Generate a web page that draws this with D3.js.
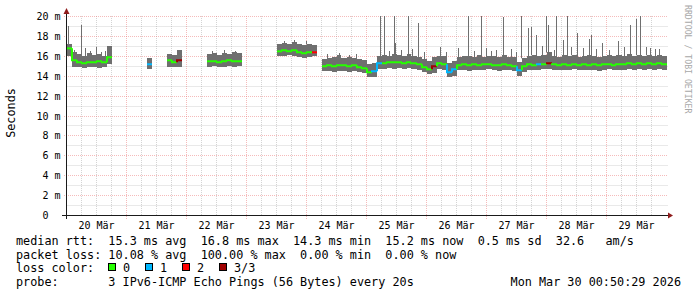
<!DOCTYPE html>
<html><head><meta charset="utf-8">
<script src="https://cdn.jsdelivr.net/npm/d3@7"></script>
<style>
html,body{margin:0;padding:0;background:#fff;}
svg{display:block;}
text{font-family:"DejaVu Sans Mono",monospace;white-space:pre;}
</style></head><body>
<svg id="c" width="697" height="297"></svg>
<script>
// ---------- data ----------
const startUtc = Date.UTC(2026, 2, 20, 0, 0, 0);
const endUtc = Date.UTC(2026, 2, 30, 0, 0, 0);
const binHours = 2;

// median rtt (ms) per 2-hour bin, null = no data
const median = [
 16.8,15.6,15.4,15.3,15.4,15.4,15.5,15.4,15.9,null,
 null,null,null,null,null,null,15.2,null,null,null,
 15.6,15.4,15.6,null,null,null,null,null,15.5,15.5,
 15.4,15.5,15.6,15.5,15.5,null,null,null,null,null,
 null,null,16.5,16.6,16.5,16.6,16.4,16.3,16.4,16.4,
 null,15.0,15.1,15.0,15.1,15.1,15.0,15.1,14.9,14.8,
 14.4,14.5,15.3,15.3,15.4,15.4,15.4,15.3,15.4,15.3,
 15.2,14.9,14.7,15.0,15.3,15.2,14.4,14.7,15.1,15.2,
 15.1,15.2,15.1,15.2,15.2,15.1,15.1,15.2,15.1,15.0,
 14.6,15.0,15.2,15.1,15.2,15.2,15.3,15.2,15.1,15.2,
 15.1,15.2,15.1,15.2,15.1,15.2,15.1,15.2,15.2,15.1,
 15.2,15.2,15.3,15.2,15.3,15.2,15.3,15.2,15.3,15.2];

// smoke band low (ms)
const smokeLo = [
 16.0,14.9,14.9,14.8,14.9,14.9,14.8,14.9,15.2,null,
 null,null,null,null,null,null,14.7,null,null,null,
 14.9,14.9,14.9,null,null,null,null,null,14.9,15.0,
 14.9,14.9,15.0,14.9,15.0,null,null,null,null,null,
 null,null,16.0,16.0,16.1,16.0,15.9,15.8,15.9,16.0,
 null,14.5,14.5,14.4,14.5,14.5,14.4,14.5,14.4,14.3,
 13.9,13.9,14.7,14.7,14.8,14.7,14.8,14.7,14.8,14.7,
 14.6,14.4,14.2,14.3,14.7,14.6,13.9,14.0,14.6,14.6,
 14.5,14.6,14.6,14.6,14.7,14.6,14.5,14.6,14.6,14.5,
 14.0,14.4,14.6,14.6,14.6,14.7,14.7,14.6,14.6,14.6,
 14.6,14.7,14.6,14.6,14.6,14.6,14.5,14.6,14.7,14.6,
 14.6,14.6,14.7,14.6,14.7,14.6,14.7,14.6,14.7,14.6];

// smoke band high (ms)
const smokeHi = [
 17.2,16.4,16.2,16.0,16.3,16.1,16.2,16.0,17.0,null,
 null,null,null,null,null,null,15.8,null,null,null,
 16.2,16.1,16.6,null,null,null,null,null,16.2,16.3,
 16.1,16.3,16.2,16.4,16.3,null,null,null,null,null,
 null,null,17.2,17.3,17.2,17.4,17.2,17.1,17.2,17.1,
 null,15.7,15.8,15.9,16.1,15.8,15.9,15.8,15.7,15.6,
 15.2,15.3,16.0,16.1,16.0,16.2,16.1,16.0,16.2,16.0,
 15.9,15.7,15.5,15.9,16.0,16.0,15.3,15.5,15.9,16.0,
 16.0,15.9,16.1,15.9,16.0,16.0,15.9,16.1,15.9,15.9,
 15.4,15.8,16.0,16.1,16.0,16.1,16.4,16.0,15.9,16.1,
 16.0,16.1,15.9,16.0,16.1,16.0,15.9,16.0,16.1,16.0,
 16.1,16.0,16.2,16.0,16.1,16.0,16.1,16.0,16.1,16.0];

// lost pings (of 3) per bin
const lossCount = [
 0,0,0,0,0,0,0,0,0,0,
 0,0,0,0,0,0,1,0,0,0,
 0,0,3,0,0,0,0,0,0,0,
 0,0,0,0,0,0,0,0,0,0,
 0,0,0,0,0,0,0,0,0,2,
 0,0,0,0,0,0,0,0,0,0,
 0,1,1,0,0,0,0,0,0,0,
 0,0,0,3,0,0,1,1,0,0,
 0,0,0,0,0,0,0,0,0,0,
 1,0,0,0,1,0,3,0,0,0,
 0,0,0,0,0,0,0,0,0,0,
 0,0,0,0,0,0,0,0,0,0];

// outlier pings: hours since start, and max rtt (ms)
const spikeHours = [0.6,3.2,6.0,7.5,9.5,11.9,13.8,15.5,58.5,63,67.5,87,91,96,104.5,109.2,113,116,
 125.5,127.3,129,131.1,131.6,134,136.7,138.5,140.7,143,149.6,152,156.9,160.9,163,
 165.9,168,170,172,174.9,178,180,182.1,184.8,186.1,188.1,190.4,192.1,192.8,195,196.1,198.9,200.5,202,204.5,
 206.8,209.2,210.1,212,214.3,217.2,220.8,223.2,225.6,228,229.5,232,233.6,235.5,237.2];
const spikeValues = [19.0,16.6,19.1,16.8,16.5,16.9,16.4,16.5,16.5,16.6,16.5,17.5,17.6,17.5,16.2,16.3,16.1,16.2,
 20.1,20.1,16.5,20.1,17.3,16.6,20.1,16.7,19.3,16.4,16.9,16.4,16.8,20.1,16.5,
 20.1,16.8,16.5,16.6,19.9,16.7,16.4,20.1,18.8,18.9,18.1,17.0,20.1,19.1,16.6,20.1,17.6,20.1,16.9,18.3,
 16.8,17.7,18.1,16.7,17.3,16.6,17.5,16.9,19.1,19.7,20.1,16.9,16.8,16.7,16.7];

const dayLabels = ["20 Mär","21 Mär","22 Mär","23 Mär","24 Mär","25 Mär","26 Mär","27 Mär","28 Mär","29 Mär"];
const yTickValues = [0,2,4,6,8,10,12,14,16,18,20];
const yUnit = "m";
const yTitle = "Seconds";
const sideNote = "RRDTOOL / TOBI OETIKER";
const legendLines = [
 "median rtt:  15.3 ms avg  16.8 ms max  14.3 ms min  15.2 ms now  0.5 ms sd  32.6   am/s",
 "packet loss: 10.08 % avg  100.00 % max  0.00 % min  0.00 % now"
];
const lossTitle = "loss color:";
const lossLabels = ["0","1","2","3/3"];
const probeLine = "probe:       3 IPv6-ICMP Echo Pings (56 Bytes) every 20s";
const stampLine = "Mon Mar 30 00:50:29 2026";

// ---------- style ----------
const lossColors = ["#26ff00","#00b8ff","#ff0000","#a00000"];
const smokeColor = "#6f6f6f";
const gridMinor = "rgba(170,170,170,0.5)";
const gridMajor = "rgba(235,120,120,0.5)";
const axisColor = "#1a1a1a";
const arrowColor = "#8f1c1c";

// ---------- drawing ----------
const svg = d3.select("#c");
const x = d3.scaleUtc().domain([new Date(startUtc), new Date(endUtc)]).range([66.5, 666.5]);
const y = d3.scaleLinear().domain([0, 20]).range([215.5, 16.5]);
const crisp = v => Math.round(v - 0.5) + 0.5;
const H = 3600e3;

// grid
const g = svg.append("g");
const minorY = d3.range(1, 20, 2);
g.selectAll("line.hmin").data(minorY).join("line")
  .attr("x1", 66.5).attr("x2", 668).attr("y1", d => crisp(y(d))).attr("y2", d => crisp(y(d)))
  .attr("stroke", gridMinor).attr("stroke-dasharray", "1,1");
const minorX = d3.utcHour.every(6).range(new Date(startUtc + 1), new Date(endUtc)).filter(d => d.getUTCHours() !== 0);
g.selectAll("line.vmin").data(minorX).join("line")
  .attr("x1", d => crisp(x(d))).attr("x2", d => crisp(x(d))).attr("y1", 16).attr("y2", 215.5)
  .attr("stroke", gridMinor).attr("stroke-dasharray", "1,1");
g.selectAll("line.hmaj").data(yTickValues.filter(d => d > 0)).join("line")
  .attr("x1", 64).attr("x2", 668).attr("y1", d => crisp(y(d))).attr("y2", d => crisp(y(d)))
  .attr("stroke", gridMajor).attr("stroke-dasharray", "1,1");
const days = d3.utcDay.range(new Date(startUtc + 1), new Date(endUtc));
g.selectAll("line.vmaj").data(days).join("line")
  .attr("x1", d => crisp(x(d))).attr("x2", d => crisp(x(d))).attr("y1", 16).attr("y2", 219)
  .attr("stroke", gridMajor).attr("stroke-dasharray", "1,1");

// bins
const bins = median.map((m, i) => ({
  i, m, lo: smokeLo[i], hi: smokeHi[i], loss: lossCount[i],
  t0: new Date(startUtc + i * binHours * H), t1: new Date(startUtc + (i + 1) * binHours * H)
})).filter(d => d.m != null);

svg.append("g").selectAll("rect").data(bins).join("rect")
  .attr("x", d => Math.round(x(d.t0))).attr("width", d => Math.round(x(d.t1)) - Math.round(x(d.t0)))
  .attr("y", d => Math.round(y(d.hi))).attr("height", d => Math.round(y(d.lo)) - Math.round(y(d.hi)))
  .attr("fill", smokeColor);

// spikes
const spikes = spikeHours.map((h, k) => {
  const bi = Math.floor(h / binHours);
  return { t: new Date(startUtc + h * H), v: Math.min(spikeValues[k], 20.1), base: smokeHi[bi] };
});
svg.append("g").selectAll("line").data(spikes).join("line")
  .attr("x1", d => crisp(x(d.t))).attr("x2", d => crisp(x(d.t)))
  .attr("y1", d => y(d.base)).attr("y2", d => Math.round(y(d.v)))
  .attr("stroke", smokeColor).attr("stroke-width", 1);

// median line, coloured by loss
svg.append("g").selectAll("path").data(bins).join("path")
  .attr("d", d => {
    const prev = median[d.i - 1];
    const x0 = Math.round(x(d.t0)), x1 = Math.round(x(d.t1));
    const yp = prev != null ? y(prev) : y(d.m);
    return `M${x0},${yp}V${y(d.m)}H${x1}`;
  })
  .attr("fill", "none").attr("stroke", d => lossColors[d.loss]).attr("stroke-width", 2);

// axes
svg.append("line").attr("x1", 62).attr("x2", 669).attr("y1", 215.5).attr("y2", 215.5).attr("stroke", axisColor);
svg.append("line").attr("x1", 66.5).attr("x2", 66.5).attr("y1", 219).attr("y2", 12).attr("stroke", axisColor);
svg.append("path").attr("d", "M673,215.5L668,212.5L668,218.5Z").attr("fill", arrowColor);
svg.append("path").attr("d", "M66.5,8L63.5,14L69.5,14Z").attr("fill", arrowColor);

// y labels
const yl = svg.append("g").attr("font-size", "10px").attr("fill", "#000");
yl.selectAll("text.n").data(yTickValues).join("text")
  .attr("x", 48.5).attr("y", d => crisp(y(d)) + 3.5).attr("text-anchor", "end").text(d => d);
yl.selectAll("text.u").data(yTickValues.filter(d => d > 0)).join("text")
  .attr("x", 54.5).attr("y", d => crisp(y(d)) + 3.5).text(yUnit);

// x labels
svg.append("g").attr("font-size", "10px").selectAll("text").data(dayLabels).join("text")
  .attr("x", (d, i) => x(new Date(startUtc + (i + 0.5) * 24 * H)))
  .attr("y", 228.5).attr("text-anchor", "middle").text(d => d);

// titles
svg.append("text").attr("transform", "translate(15,113) rotate(-90)").attr("text-anchor", "middle")
  .attr("font-size", "11.8px").text(yTitle);
svg.append("text").attr("transform", "translate(685,5) rotate(90)").attr("font-size", "8.2px")
  .attr("fill", "#a8a8a8").text(sideNote);

// legend
const lg = svg.append("g").attr("font-size", "11.8px").attr("fill", "#000");
lg.selectAll("text.l").data(legendLines).join("text").attr("x", 16).attr("y", (d, i) => 245 + i * 13.7).text(d => d);
lg.append("text").attr("x", 16).attr("y", 272.3).text(lossTitle);
const lossItems = lg.selectAll("g.li").data(lossLabels).join("g")
  .attr("transform", (d, i) => `translate(${108.5 + i * 37},263.5)`);
lossItems.append("rect").attr("width", 7).attr("height", 7)
  .attr("fill", (d, i) => lossColors[i]).attr("stroke", "#000").attr("stroke-width", 1);
lossItems.append("text").attr("x", 14.5).attr("y", 8.8).text(d => d);
lg.append("text").attr("x", 16).attr("y", 286.2).text(probeLine);
lg.append("text").attr("x", 681).attr("y", 286.2).attr("text-anchor", "end").text(stampLine);
</script>
</body></html>
